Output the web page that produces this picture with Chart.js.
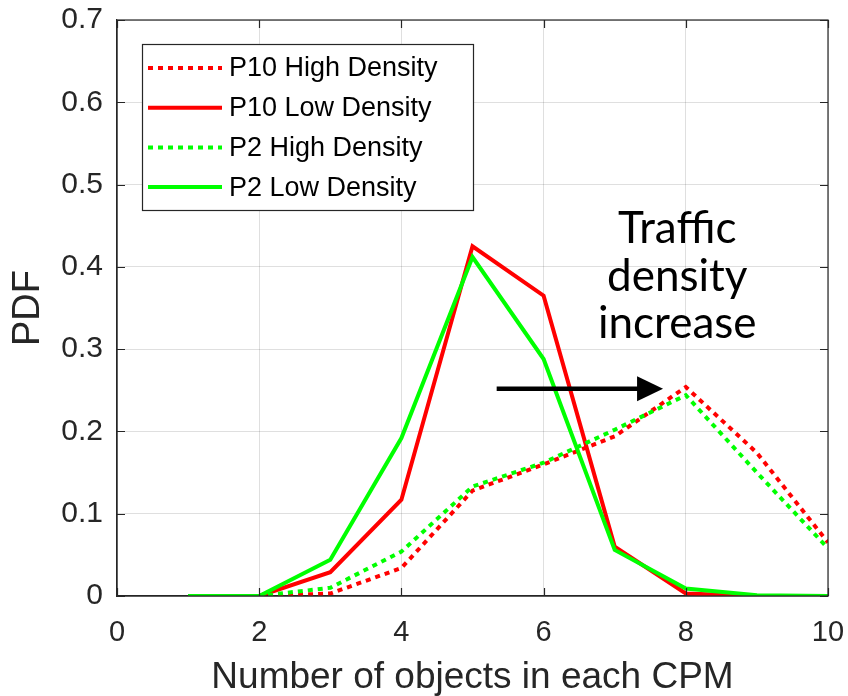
<!DOCTYPE html>
<html>
<head>
<meta charset="utf-8">
<script src="https://cdn.jsdelivr.net/npm/chart.js@4"></script>
<style>
  html, body { margin: 0; padding: 0; background: #fff; }
  #wrap { width: 848px; height: 696px; position: relative; }
</style>
</head>
<body>
<div id="wrap"><canvas id="chart"></canvas></div>
<script>
// values
const objects = [1, 2, 3, 4, 5, 6, 7, 8, 9, 10];
const p10High = [0, 0, 0.003, 0.034, 0.128, 0.160, 0.194, 0.254, 0.174, 0.065];
const p10Low  = [0, 0, 0.029, 0.117, 0.425, 0.365, 0.060, 0.003, 0, 0];
const p2High  = [0, 0, 0.010, 0.054, 0.133, 0.162, 0.202, 0.244, 0.150, 0.058];
const p2Low   = [0, 0, 0.044, 0.192, 0.412, 0.288, 0.056, 0.009, 0.001, 0];
const xTicks = [0, 2, 4, 6, 8, 10];
const yTicks = [0, 0.1, 0.2, 0.3, 0.4, 0.5, 0.6, 0.7];
const seriesNames = ['P10 High Density', 'P10 Low Density', 'P2 High Density', 'P2 Low Density'];
const noteLines = ['Traffic', 'density', 'increase'];

const INK = '#262626';
const FONT = "'Liberation Sans', Arial, sans-serif";

function pts(vals) {
  return objects.map((x, i) => ({ x: x, y: vals[i] }));
}

function ds(label, vals, color, dotted, order) {
  return {
    label: label,
    data: pts(vals),
    borderColor: color,
    backgroundColor: color,
    borderWidth: 4,
    borderDash: dotted ? [5, 5] : [],
    borderCapStyle: 'butt',
    borderJoinStyle: 'miter',
    pointRadius: 0,
    tension: 0,
    fill: false,
    order: order
  };
}

const datasets = [
  ds(seriesNames[0], p10High, '#ff0000', true, 4),
  ds(seriesNames[1], p10Low, '#ff0000', false, 3),
  ds(seriesNames[2], p2High, '#00ff00', true, 2),
  ds(seriesNames[3], p2Low, '#00ff00', false, 1)
];

// chart.js adds label padding on top of layout padding, drop it
function noEdgePad(s) {
  s.paddingTop = 0; s.paddingBottom = 0; s.paddingLeft = 0; s.paddingRight = 0;
}

// MATLAB style box, inward ticks, legend and the arrow note
const matlabBits = {
  id: 'matlabBits',
  afterDatasetsDraw(chart) {
    const ctx = chart.ctx;
    const a = chart.chartArea;
    const xs = chart.scales.x, ys = chart.scales.y;
    ctx.save();

    // box + inner ticks
    ctx.strokeStyle = INK;
    ctx.lineWidth = 1.2;
    ctx.strokeRect(a.left, a.top, a.right - a.left, a.bottom - a.top);
    const tl = 8;
    ctx.beginPath();
    xTicks.forEach(v => {
      const px = Math.round(xs.getPixelForValue(v)) + 0.5;
      ctx.moveTo(px, a.bottom); ctx.lineTo(px, a.bottom - tl);
      ctx.moveTo(px, a.top); ctx.lineTo(px, a.top + tl);
    });
    yTicks.forEach(v => {
      const py = Math.round(ys.getPixelForValue(v)) + 0.5;
      ctx.moveTo(a.left, py); ctx.lineTo(a.left + tl, py);
      ctx.moveTo(a.right, py); ctx.lineTo(a.right - tl, py);
    });
    ctx.stroke();

    // note text
    ctx.fillStyle = '#000';
    ctx.font = "44px Lato, 'Open Sans', sans-serif";
    ctx.textAlign = 'center';
    ctx.textBaseline = 'alphabetic';
    const noteX = xs.getPixelForValue(7.88);
    const noteY = [0.4295, 0.371, 0.314];
    noteLines.forEach((t, i) => ctx.fillText(t, noteX, ys.getPixelForValue(noteY[i])));

    // arrow
    const ax0 = xs.getPixelForValue(5.34), ax1 = xs.getPixelForValue(7.68);
    const ay = ys.getPixelForValue(0.252);
    ctx.strokeStyle = '#000';
    ctx.lineWidth = 4.5;
    ctx.beginPath();
    ctx.moveTo(ax0, ay); ctx.lineTo(ax1 - 20, ay);
    ctx.stroke();
    ctx.beginPath();
    ctx.moveTo(ax1, ay);
    ctx.lineTo(ax1 - 26, ay - 12.5);
    ctx.lineTo(ax1 - 26, ay + 12.5);
    ctx.closePath();
    ctx.fill();

    // legend box
    const lx = a.left + 25, ly = a.top + 24, lw = 331, lh = 166;
    ctx.fillStyle = '#fff';
    ctx.fillRect(lx, ly, lw, lh);
    ctx.strokeStyle = INK;
    ctx.lineWidth = 1.2;
    ctx.strokeRect(lx + 0.5, ly + 0.5, lw, lh);
    ctx.font = '27px ' + FONT;
    ctx.textAlign = 'left';
    ctx.textBaseline = 'middle';
    datasets.forEach((d, i) => {
      const ry = ly + 24 + i * 39.7;
      ctx.strokeStyle = d.borderColor;
      ctx.lineWidth = 4;
      ctx.setLineDash(d.borderDash);
      ctx.beginPath();
      ctx.moveTo(lx + 6, ry); ctx.lineTo(lx + 80, ry);
      ctx.stroke();
      ctx.setLineDash([]);
      ctx.fillStyle = '#000';
      ctx.fillText(d.label, lx + 87, ry + 1);
    });

    ctx.restore();
  }
};

new Chart(document.getElementById('chart'), {
  type: 'line',
  data: { datasets: datasets },
  plugins: [matlabBits],
  options: {
    responsive: true,
    maintainAspectRatio: false,
    animation: false,
    layout: { padding: { left: 0, top: 20, right: 20, bottom: 0 } },
    plugins: { legend: { display: false }, tooltip: { enabled: false } },
    scales: {
      x: {
        type: 'linear',
        min: 0, max: 10,
        afterFit: s => { s.height = 100; noEdgePad(s); },
        afterBuildTicks: s => { s.ticks = xTicks.map(v => ({ value: v })); },
        grid: { color: 'rgba(38,38,38,0.15)', drawTicks: false },
        border: { display: true, color: INK, width: 1.2 },
        ticks: { color: INK, font: { family: FONT, size: 29 }, padding: 20, maxRotation: 0 },
        title: {
          display: true, text: 'Number of objects in each CPM', color: INK,
          font: { family: FONT, size: 37, lineHeight: 1 }, padding: { top: 0, bottom: 0 }
        }
      },
      y: {
        min: 0, max: 0.7,
        afterFit: s => { s.width = 117; noEdgePad(s); },
        afterBuildTicks: s => { s.ticks = yTicks.map(v => ({ value: v })); },
        grid: { color: 'rgba(38,38,38,0.15)', drawTicks: false },
        border: { display: true, color: INK, width: 1.2 },
        ticks: { color: INK, font: { family: FONT, size: 30 }, padding: 14, callback: v => String(+v.toFixed(1)) },
        title: {
          display: true, text: 'PDF', color: INK,
          font: { family: FONT, size: 38, lineHeight: 1 }, padding: { top: 10, bottom: 0 }
        }
      }
    }
  }
});
</script>
</body>
</html>
